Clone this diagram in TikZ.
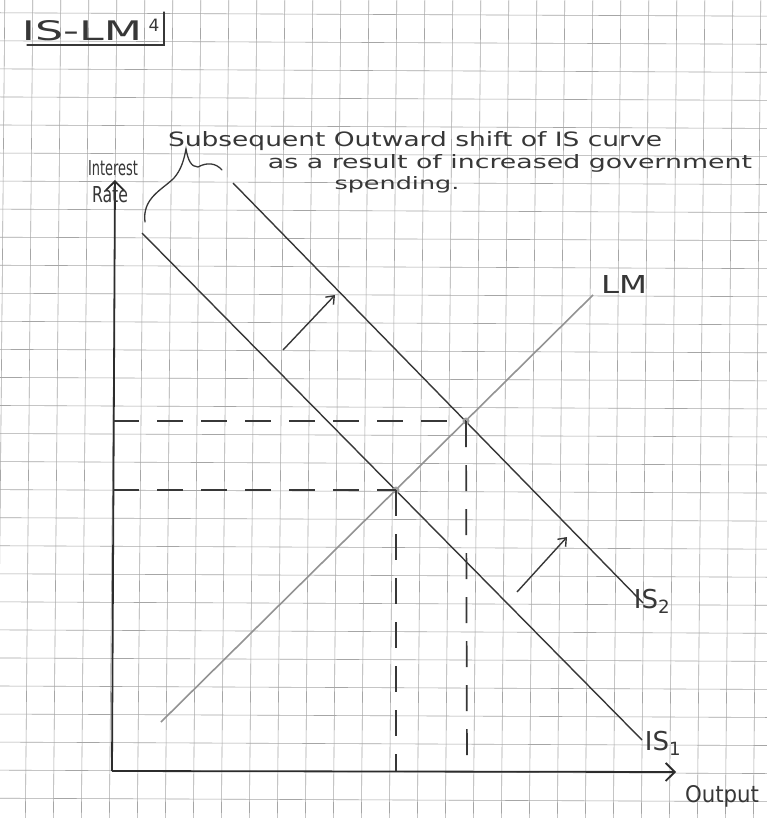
\documentclass[tikz,border=0pt]{standalone}
\usepackage{fontspec}
\setmainfont{DejaVu Sans}
\usetikzlibrary{arrows.meta, positioning, calc}
\definecolor{pencil}{RGB}{55,55,55}
\definecolor{paperline}{RGB}{150,150,150}
\tikzset{
    % graph paper
    gridline/.style={draw=paperline!85, line width=0.6pt},
    % axes and curves
    axisline/.style={draw=pencil!80!black, line width=1.8pt},
    axisarrow/.style={-{Straight Barb[length=9pt, width=18pt]}, axisline},
    iscurve/.style={draw=pencil, line width=1.4pt},
    lmcurve/.style={draw=gray!85, line width=1.6pt},
    dashline/.style={draw=pencil, line width=1.7pt, dash pattern=on 26pt off 18pt},
    shiftarrow/.style={-{Straight Barb[length=7pt, width=11pt]}, draw=pencil, line width=1.4pt},
    eqdot/.style={circle, fill=gray!75, inner sep=0pt, minimum size=7pt},
    pencilline/.style={draw=pencil, line width=1.3pt, line cap=round},
    % handwriting
    hand/.style={font=\fontsize{22}{24}\selectfont, text=pencil, inner sep=0pt},
    handlbl/.style={font=\fontsize{26}{28}\selectfont, text=pencil, inner sep=0pt},
}

\begin{document}
\begin{tikzpicture}[x=1pt, y=-1pt]
\useasboundingbox (0,0) rectangle (767,818);
\fill[white] (0,0) rectangle (767,818);

% graph paper
\begin{scope}
\clip (0,0) rectangle (767,818);
\foreach \k in {-1,...,27}
    \draw[gridline] ({32.8+28*\k},0) -- ({25.4+28*\k},818);
\foreach \j in {0,...,29}
    \draw[gridline] (0,{12.8+28.05*\j}) -- (767,{16.2+28.05*\j});
\end{scope}

% title
\node[handlbl] (title) at (82,31) {\resizebox{120pt}{20pt}{IS-LM}};
\node[hand, font=\fontsize{17}{18}\selectfont] (titlenum) at (154,25) {4};
\draw[pencilline] (27,45) -- (164,45) -- (164,12);

% axes
\coordinate (origin) at (112,771);
\coordinate (ytop)   at (115,180);
\coordinate (xend)   at (676,772);
\draw[axisarrow] (origin) -- (ytop);
\draw[axisarrow] (origin) -- (xend);

% curves
\coordinate (is1a) at (142,233);
\coordinate (is1b) at (642,740);
\coordinate (is2a) at (233,183);
\coordinate (is2b) at (643,603);
\coordinate (lma)  at (161,722);
\coordinate (lmb)  at (593,295);
\draw[iscurve] (is1a) -- (is1b);
\draw[iscurve] (is2a) -- (is2b);
\draw[lmcurve] (lma) -- (lmb);

% equilibria
\node[eqdot] (e1) at (396,490) {};
\node[eqdot] (e2) at (466,421) {};
\coordinate (r1) at (113,490);
\coordinate (r2) at (113,421);
\coordinate (y1) at (396,771);
\coordinate (y2) at (467,771);
\draw[dashline] (r2) -- (e2.center);
\draw[dashline] (r1) -- (e1.center);
\draw[dashline] (e1.center) -- (y1);
\draw[dashline] (e2.center) -- (y2);

% shift arrows
\coordinate (sa1) at (283,350);
\coordinate (sb1) at (335,295);
\coordinate (sa2) at (517,592);
\coordinate (sb2) at (567,537);
\draw[shiftarrow] (sa1) -- (sb1);
\draw[shiftarrow] (sa2) -- (sb2);

% brace
\draw[pencilline] (145,222) .. controls (142,198) and (162,190) .. (174,178)
    .. controls (181,170) and (184,160) .. (186,149)
    .. controls (188,160) and (191,167) .. (198,167)
    .. controls (207,162) and (216,163) .. (222,170);

% labels
\node[hand] (ratetop) at (113,168) {\resizebox{50pt}{15pt}{Interest}};
\node[hand] (ratebot) at (110,195) {\resizebox{36pt}{16pt}{Rate}};
\node[hand] (xaxislbl) at (722,796) {\resizebox{74pt}{17pt}{Output}};
\node[hand] (lmlbl) at (624,284) {\resizebox{46pt}{18pt}{LM}};
\node[handlbl] (is2lbl) at (652,601) {IS\textsubscript{2}};
\node[handlbl] (is1lbl) at (663,743) {IS\textsubscript{1}};

% note
\node[hand, anchor=base] (note1) at (415,147) {\resizebox{494pt}{15pt}{Subsequent Outward shift of IS curve}};
\node[hand, anchor=base] (note2) at (510,169) {\resizebox{484pt}{14pt}{as a result of increased government}};
\node[hand, anchor=base] (note3) at (397,190) {\resizebox{125pt}{13pt}{spending.}};
\end{tikzpicture}
\end{document}
